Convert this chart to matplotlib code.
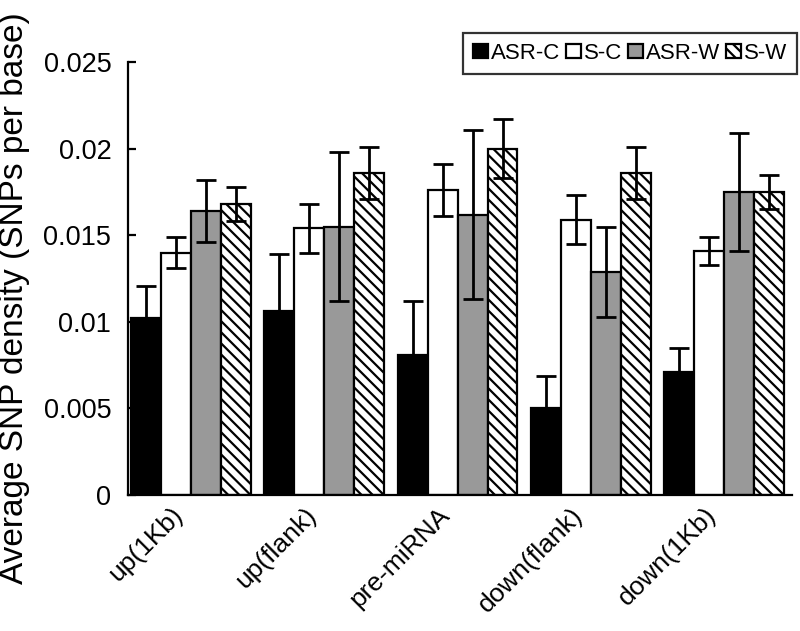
import numpy as np
import matplotlib
matplotlib.use("Agg")
import matplotlib.pyplot as plt
import matplotlib.transforms as mtransforms

plt.rcParams['font.family'] = ['Liberation Sans', 'DejaVu Sans']
plt.rcParams['hatch.linewidth'] = 1.6

# regions on the x axis
regions = ['up(1Kb)', 'up(flank)', 'pre-miRNA', 'down(flank)', 'down(1Kb)']

# mean SNP density per region, one list per group
asr_c = [0.0102, 0.0106, 0.0081, 0.0050, 0.0071]
s_c = [0.0140, 0.0154, 0.0176, 0.0159, 0.0141]
asr_w = [0.0164, 0.0155, 0.0162, 0.0129, 0.0175]
s_w = [0.0168, 0.0186, 0.0200, 0.0186, 0.0175]

# error bar half-lengths
asr_c_err = [0.0019, 0.0033, 0.0031, 0.0019, 0.0014]
s_c_err = [0.0009, 0.0014, 0.0015, 0.0014, 0.0008]
asr_w_err = [0.0018, 0.0043, 0.0049, 0.0026, 0.0034]
s_w_err = [0.0010, 0.0015, 0.0017, 0.0015, 0.0010]

fig = plt.figure(figsize=(8, 6.31), dpi=100)
ax = fig.add_axes([0.16, 0.2155, 0.83, 0.686])

x = np.arange(len(regions))
w = 0.225

series = [
    ('ASR-C', asr_c, asr_c_err, 'black', None),
    ('S-C', s_c, s_c_err, 'white', None),
    ('ASR-W', asr_w, asr_w_err, '#999999', None),
    ('S-W', s_w, s_w_err, 'white', '\\\\\\'),
]

for i, (name, vals, errs, color, hatch) in enumerate(series):
    pos = x + (i - 1.5) * w
    ax.bar(pos, vals, w, color=color, edgecolor='black', linewidth=1.6,
           hatch=hatch, label=name, zorder=2)
    ax.errorbar(pos, vals, yerr=errs, fmt='none', ecolor='black',
                elinewidth=2, capsize=7.5, capthick=2, zorder=3)

ax.set_xlim(-0.473, 4.51)
ax.set_ylim(0, 0.025)
ax.set_yticks([0, 0.005, 0.01, 0.015, 0.02, 0.025])
ax.set_yticklabels(['0', '0.005', '0.01', '0.015', '0.02', '0.025'])
ax.set_xticks(x)
ax.set_xticklabels(regions, rotation=45, ha='right', rotation_mode='anchor')

ax.spines['top'].set_visible(False)
ax.spines['right'].set_visible(False)
ax.spines['left'].set_linewidth(1.6)
ax.spines['bottom'].set_linewidth(1.6)
ax.tick_params(axis='y', direction='in', length=6, width=1.6, labelsize=19.5, pad=12)
ax.tick_params(axis='x', length=0, labelsize=19, pad=8)

# shift the rotated labels so their ends sit just left of the group centre
# (done after tick_params, which resets the label transforms)
shift = mtransforms.ScaledTranslation(-0.2, 0.03, fig.dpi_scale_trans)
for lbl in ax.get_xticklabels():
    lbl.set_transform(lbl.get_transform() + shift)

ax.set_ylabel('Average SNP density (SNPs per base)', fontsize=24)
ax.yaxis.set_label_coords(-0.148, 0.456)

leg = fig.legend(loc='upper right', bbox_to_anchor=(0.996, 0.948), ncol=4,
                 fontsize=16, frameon=True, fancybox=False, edgecolor='black',
                 handlelength=0.65, handleheight=0.65, handletextpad=0.12,
                 columnspacing=0.3, borderpad=0.45, borderaxespad=0)
leg.get_frame().set_linewidth(1.6)

fig.savefig('out.png', dpi=100)
